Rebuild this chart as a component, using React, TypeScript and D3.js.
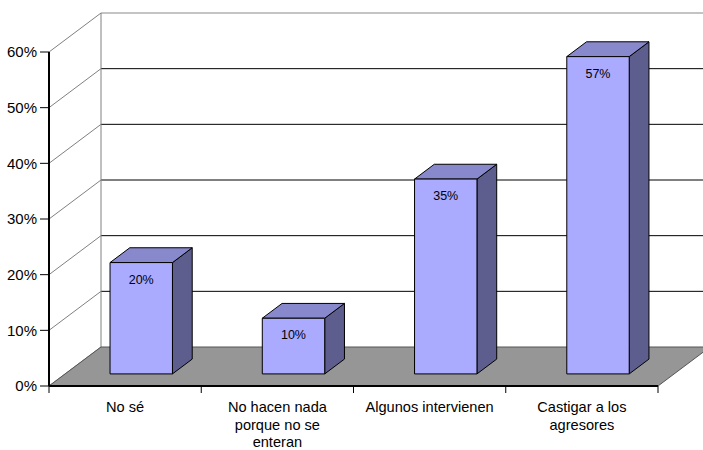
import React, { useEffect, useRef } from "react";
import * as d3 from "d3";

// chart data
const categories = ["No sé", "No hacen nada porque no se enteran", "Algunos intervienen", "Castigar a los agresores"];
const categoryLines = [["No sé"], ["No hacen nada", "porque no se", "enteran"], ["Algunos intervienen"], ["Castigar a los", "agresores"]];
const values = [0.2, 0.1, 0.35, 0.57];
const valueLabels = ["20%", "10%", "35%", "57%"];
const yTicks = [0, 0.1, 0.2, 0.3, 0.4, 0.5, 0.6];

const W = 703;
const H = 450;
const DX = 52; // depth offset
const DY = 39;

const App = () => {
  const ref = useRef<SVGSVGElement>(null);

  useEffect(() => {
    const svg = d3.select(ref.current);
    svg.selectAll("*").remove();
    const font = "Liberation Sans, Arial, sans-serif";

    const x = d3.scaleBand().domain(categories).range([49, 658]).paddingInner(0).paddingOuter(0);
    const y = d3.scaleLinear().domain([0, 0.6]).range([386, 52]);

    const P = (px: number, py: number, d: number) => [px + d * DX, py - d * DY];
    const poly = (pts: number[][]) => pts.map((p) => p.join(",")).join(" ");

    const x0 = x.range()[0];
    const x1 = x.range()[1];
    const yTop = y(0.6);
    const yBase = y(0);

    // back wall
    svg
      .append("polygon")
      .attr("points", poly([P(x0, yTop, 1), P(x1, yTop, 1), P(x1, yBase, 1), P(x0, yBase, 1)]))
      .attr("fill", "white");

    // back wall gridlines
    svg
      .selectAll("line.grid")
      .data(yTicks.filter((t) => t > 0))
      .join("line")
      .attr("class", "grid")
      .attr("x1", P(x0, 0, 1)[0])
      .attr("x2", P(x1, 0, 1)[0])
      .attr("y1", (d) => P(0, y(d), 1)[1])
      .attr("y2", (d) => P(0, y(d), 1)[1])
      .attr("stroke", (d) => (d === 0.6 ? "#888" : "#000"))
      .attr("stroke-width", 1);

    // left wall diagonals
    svg
      .selectAll("line.diag")
      .data(yTicks)
      .join("line")
      .attr("class", "diag")
      .attr("x1", x0)
      .attr("y1", (d) => y(d))
      .attr("x2", P(x0, 0, 1)[0])
      .attr("y2", (d) => P(0, y(d), 1)[1])
      .attr("stroke", "#808080")
      .attr("stroke-width", 1);

    // back wall left edge
    svg
      .append("line")
      .attr("x1", P(x0, 0, 1)[0])
      .attr("x2", P(x0, 0, 1)[0])
      .attr("y1", P(0, yTop, 1)[1])
      .attr("y2", P(0, yBase, 1)[1])
      .attr("stroke", "#808080");

    // floor
    svg
      .append("polygon")
      .attr("points", poly([P(x0, yBase, 0), P(x1, yBase, 0), P(x1, yBase, 1), P(x0, yBase, 1)]))
      .attr("fill", "#969696")
      .attr("stroke", "#555")
      .attr("stroke-width", 1);

    // bars
    const bw = x.bandwidth() * 0.41;
    const d0 = 0.31;
    const d1 = 0.69;
    const bars = svg
      .selectAll("g.bar")
      .data(categories)
      .join("g")
      .attr("class", "bar");

    bars.each(function (c, i) {
      const g = d3.select(this);
      const cx = (x(c) as number) + x.bandwidth() / 2;
      const l = cx - bw / 2;
      const r = cx + bw / 2;
      const t = y(values[i]);
      const b = yBase;
      // side
      g.append("polygon")
        .attr("points", poly([P(r, t, d0), P(r, t, d1), P(r, b, d1), P(r, b, d0)]))
        .attr("fill", "#5e5e8e")
        .attr("stroke", "#000")
        .attr("stroke-width", 1);
      // top
      g.append("polygon")
        .attr("points", poly([P(l, t, d0), P(r, t, d0), P(r, t, d1), P(l, t, d1)]))
        .attr("fill", "#8888cc")
        .attr("stroke", "#000")
        .attr("stroke-width", 1);
      // front
      g.append("polygon")
        .attr("points", poly([P(l, t, d0), P(r, t, d0), P(r, b, d0), P(l, b, d0)]))
        .attr("fill", "#aaaaff")
        .attr("stroke", "#000")
        .attr("stroke-width", 1);
      const [fx, fy] = P(cx, t, d0);
      g.append("text")
        .text(valueLabels[i])
        .attr("x", fx)
        .attr("y", fy + 21)
        .attr("text-anchor", "middle")
        .attr("font-family", font)
        .attr("font-size", "12.5px")
        .attr("fill", "#000");
    });

    // axes
    svg
      .append("line")
      .attr("x1", x0)
      .attr("x2", x0)
      .attr("y1", yTop)
      .attr("y2", yBase)
      .attr("stroke", "#000")
      .attr("stroke-width", 2);
    svg
      .append("line")
      .attr("x1", x0)
      .attr("x2", x1)
      .attr("y1", yBase)
      .attr("y2", yBase)
      .attr("stroke", "#000")
      .attr("stroke-width", 2);

    svg
      .selectAll("line.ytick")
      .data(yTicks)
      .join("line")
      .attr("class", "ytick")
      .attr("x1", x0 - 9)
      .attr("x2", x0)
      .attr("y1", (d) => y(d))
      .attr("y2", (d) => y(d))
      .attr("stroke", "#000");

    svg
      .selectAll("text.ylab")
      .data(yTicks)
      .join("text")
      .attr("class", "ylab")
      .text((d) => d3.format(".0%")(d))
      .attr("x", 37)
      .attr("y", (d) => y(d))
      .attr("dy", "0.36em")
      .attr("text-anchor", "end")
      .attr("font-family", font)
      .attr("font-size", "15px")
      .attr("fill", "#000");

    const xt = categories.map((c) => x(c) as number).concat([x1]);
    svg
      .selectAll("line.xtick")
      .data(xt)
      .join("line")
      .attr("class", "xtick")
      .attr("x1", (d) => d)
      .attr("x2", (d) => d)
      .attr("y1", yBase)
      .attr("y2", yBase + 7)
      .attr("stroke", "#000");

    const xl = svg
      .selectAll("text.xlab")
      .data(categories)
      .join("text")
      .attr("class", "xlab")
      .attr("text-anchor", "middle")
      .attr("font-family", font)
      .attr("font-size", "14.6px")
      .attr("fill", "#000");
    xl.each(function (c, i) {
      const cx = (x(c) as number) + x.bandwidth() / 2;
      d3.select(this)
        .selectAll("tspan")
        .data(categoryLines[i])
        .join("tspan")
        .attr("x", cx)
        .attr("y", (d, j) => 412 + j * 17.5)
        .text((d) => d);
    });
  }, []);

  return (
    <svg
      ref={ref}
      width={W}
      height={H}
      style={{ position: "absolute", left: 0, top: 0, background: "white" }}
    ></svg>
  );
};

export default App;
